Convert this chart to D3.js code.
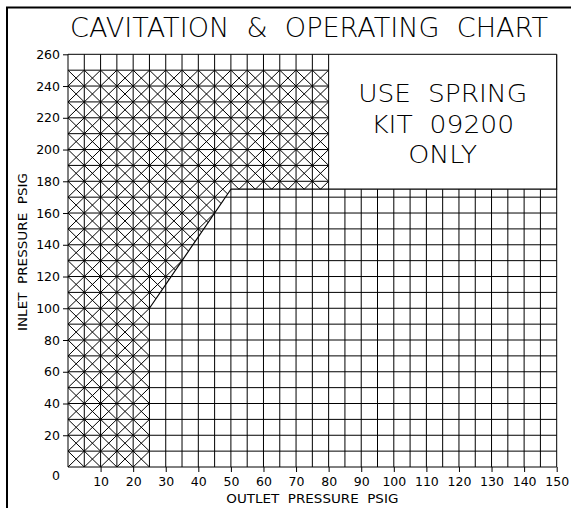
<!DOCTYPE html>
<html>
<head>
<meta charset="utf-8">
<style>
  body { margin: 0; background: #fff; }
  svg text { fill: #000; white-space: pre; }
  .tick text { font-family: 'DejaVu Sans', sans-serif; font-size: 12.5px; }
  .grid line { stroke: #000; stroke-width: 1; }
  .hatch line { stroke: #000; stroke-width: 1; }
</style>
</head>
<body>
<div id="chart"></div>
<script src="https://cdn.jsdelivr.net/npm/d3@7"></script>
<script>
// tick labels
var xTicks = [10, 20, 30, 40, 50, 60, 70, 80, 90, 100, 110, 120, 130, 140, 150];
var yTicks = [20, 40, 60, 80, 100, 120, 140, 160, 180, 200, 220, 240, 260];

// cavitation (hatched) region, outlet vs inlet psig
var zoneOutlet = [0, 25, 25, 50, 80, 80, 0];
var zoneInlet  = [0, 0, 100, 175, 175, 250, 250];

// note box (outlet / inlet limits)
var boxOutlet = [80, 150];
var boxInlet = [175, 260];
var boxLines = ["USE  SPRING", "KIT  09200", "ONLY"];

var width = 571, height = 508;

var svg = d3.select("#chart").append("svg")
  .attr("width", width)
  .attr("height", height);

var x = d3.scaleLinear().domain([0, 150]).range([68, 556.7]);
var y = d3.scaleLinear().domain([0, 260]).range([467, 54.3]);

// outer frame (top + left only)
svg.append("path")
  .attr("d", "M7,508 V7.5 H571")
  .attr("fill", "none")
  .attr("stroke", "#000")
  .attr("stroke-width", 2);

// title
svg.append("text")
  .attr("x", 70).attr("y", 37)
  .attr("textLength", 478)
  .attr("lengthAdjust", "spacingAndGlyphs")
  .style("font-family", "'DejaVu Sans', sans-serif")
  .style("font-weight", 200)
  .style("font-size", "27px")
  .text("CAVITATION  &  OPERATING  CHART");

// hatch, clipped to the zone polygon
var zonePts = zoneOutlet.map(function(d, i) { return [x(d), y(zoneInlet[i])]; });
svg.append("clipPath").attr("id", "zone")
  .append("polygon")
  .attr("points", zonePts.map(function(p) { return p.join(","); }).join(" "));

var cells = [];
d3.range(0, 80, 5).forEach(function(cx) {
  d3.range(0, 250, 10).forEach(function(cy) {
    cells.push([cx, cy]);
  });
});

var hatch = svg.append("g").attr("class", "hatch").attr("clip-path", "url(#zone)");
hatch.selectAll("line.a").data(cells).enter().append("line")
  .attr("x1", function(d) { return x(d[0]); })
  .attr("y1", function(d) { return y(d[1]); })
  .attr("x2", function(d) { return x(d[0] + 5); })
  .attr("y2", function(d) { return y(d[1] + 10); });
hatch.selectAll("line.b").data(cells).enter().append("line")
  .attr("x1", function(d) { return x(d[0]); })
  .attr("y1", function(d) { return y(d[1] + 10); })
  .attr("x2", function(d) { return x(d[0] + 5); })
  .attr("y2", function(d) { return y(d[1]); });

// grid
var grid = svg.append("g").attr("class", "grid");
grid.selectAll("line.v").data(d3.range(0, 151, 5)).enter().append("line")
  .attr("x1", function(d) { return x(d); })
  .attr("x2", function(d) { return x(d); })
  .attr("y1", y(0))
  .attr("y2", function(d) { return d <= boxOutlet[0] ? y(260) : y(boxInlet[0]); });
grid.selectAll("line.h").data(d3.range(0, 261, 10)).enter().append("line")
  .attr("y1", function(d) { return y(d); })
  .attr("y2", function(d) { return y(d); })
  .attr("x1", x(0))
  .attr("x2", function(d) { return (d < boxInlet[0] || d == 260) ? x(150) : x(boxOutlet[0]); });

// note box border
svg.append("path")
  .attr("d", "M" + x(zoneOutlet[3]) + "," + y(boxInlet[0]) +
             " H" + x(boxOutlet[1]) + " V" + y(boxInlet[1]))
  .attr("fill", "none").attr("stroke", "#000").attr("stroke-width", 1.2);

// cavitation boundary line
svg.append("line")
  .attr("x1", x(zoneOutlet[2])).attr("y1", y(zoneInlet[2]))
  .attr("x2", x(zoneOutlet[3])).attr("y2", y(zoneInlet[3]))
  .attr("stroke", "#000").attr("stroke-width", 1.2);

// note text
var boxCx = x((boxOutlet[0] + boxOutlet[1]) / 2);
var noteW = [169, 143, 69];
svg.selectAll("text.note").data(boxLines).enter().append("text")
  .attr("class", "note")
  .attr("x", boxCx)
  .attr("y", function(d, i) { return 102 + i * 30.7; })
  .attr("text-anchor", "middle")
  .attr("textLength", function(d, i) { return noteW[i]; })
  .attr("lengthAdjust", "spacingAndGlyphs")
  .style("font-family", "'DejaVu Sans', sans-serif")
  .style("font-weight", 200)
  .style("font-size", "25px")
  .text(function(d) { return d; });

// axes
var xAxis = svg.append("g")
  .attr("transform", "translate(0," + y(0) + ")")
  .call(d3.axisBottom(x).tickValues(xTicks).tickSize(5).tickPadding(5));
var yAxis = svg.append("g")
  .attr("transform", "translate(" + x(0) + ",0)")
  .call(d3.axisLeft(y).tickValues(yTicks).tickSize(5).tickPadding(3));
[xAxis, yAxis].forEach(function(a) {
  a.select(".domain").remove();
  a.selectAll(".tick line").attr("stroke", "#000");
  a.attr("font-family", null).attr("font-size", null);
});

// origin label
svg.append("text")
  .attr("x", x(0) - 12).attr("y", y(0) + 13)
  .attr("text-anchor", "middle")
  .style("font-family", "'DejaVu Sans', sans-serif")
  .style("font-size", "12.5px")
  .text("0");

// axis titles
svg.append("text")
  .attr("x", x(75)).attr("y", 503)
  .attr("text-anchor", "middle")
  .attr("textLength", 172)
  .attr("lengthAdjust", "spacingAndGlyphs")
  .style("font-family", "'DejaVu Sans', sans-serif")
  .style("font-size", "11.5px")
  .text("OUTLET  PRESSURE  PSIG");

svg.append("text")
  .attr("transform", "translate(27,252) rotate(-90)")
  .attr("text-anchor", "middle")
  .attr("textLength", 158)
  .attr("lengthAdjust", "spacingAndGlyphs")
  .style("font-family", "'DejaVu Sans', sans-serif")
  .style("font-size", "11.5px")
  .text("INLET  PRESSURE  PSIG");
</script>
</body>
</html>
